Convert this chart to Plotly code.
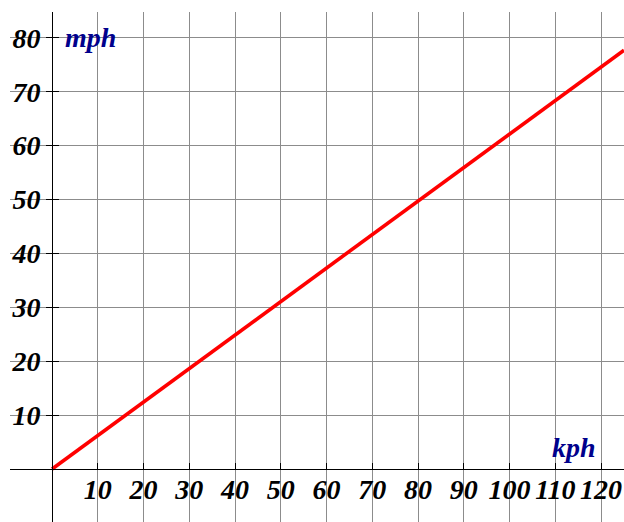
import plotly.graph_objects as go

# Data
kph = [0, 125]
mph = [0, 77.7]
x_ticks = [10, 20, 30, 40, 50, 60, 70, 80, 90, 100, 110, 120]
y_ticks = [10, 20, 30, 40, 50, 60, 70, 80]
x_range = [-9.2, 125.0]
y_range = [-9.83, 84.8]

W, H = 624, 522
ml, mr, mt, mb = 10, 0, 12, 0
font = dict(family="Liberation Serif, Times New Roman, serif", size=28, color="black",
            style="italic", weight="bold")
lab_font = dict(family="Liberation Serif, Times New Roman, serif", size=28, color="#00008c",
                style="italic", weight="bold")

x_pos = (0 - y_range[0]) / (y_range[1] - y_range[0])
y_pos = (0 - x_range[0]) / (x_range[1] - x_range[0])

fig = go.Figure()
fig.add_trace(go.Scatter(x=kph, y=mph, mode="lines",
                         line=dict(color="#ff0000", width=3.6),
                         hoverinfo="skip", showlegend=False, cliponaxis=True))
# dummy trace for second y axis (ticks crossing)
fig.add_trace(go.Scatter(x=[None], y=[None], yaxis="y2", showlegend=False))

fig.update_layout(
    width=W, height=H,
    margin=dict(l=ml, r=mr, t=mt, b=mb, autoexpand=False),
    paper_bgcolor="white", plot_bgcolor="white",
    xaxis=dict(range=x_range, tickvals=x_ticks, ticktext=[str(v) for v in x_ticks],
               showgrid=True, gridcolor="#8c8c8c", gridwidth=1, zeroline=False,
               showline=True, linecolor="black", linewidth=1.2,
               anchor="free", position=x_pos, automargin=False,
               ticks="inside", ticklen=6, tickcolor="black", tickwidth=1.2,
               ticklabelstandoff=-5,
               tickfont=font, fixedrange=True),
    yaxis=dict(range=y_range, tickvals=y_ticks, ticktext=[str(v) for v in y_ticks],
               showgrid=True, gridcolor="#8c8c8c", gridwidth=1, zeroline=False,
               showline=True, linecolor="black", linewidth=1.2,
               anchor="free", position=y_pos, automargin=False,
               ticks="outside", ticklen=6, tickcolor="black", tickwidth=1.2,
               tickfont=font, fixedrange=True),
    yaxis2=dict(range=y_range, tickvals=y_ticks, overlaying="y", matches="y",
                anchor="free", position=y_pos, showgrid=False, zeroline=False,
                ticks="inside", ticklen=6, tickcolor="black", tickwidth=1.2,
                showticklabels=False, showline=False, fixedrange=True, automargin=False),
    annotations=[
        dict(x=2.4, y=80, xref="x", yref="y", text="mph", showarrow=False,
             xanchor="left", yanchor="middle", font=lab_font),
        dict(x=119.3, y=4.0, xref="x", yref="y", text="kph", showarrow=False,
             xanchor="right", yanchor="middle", font=lab_font),
    ],
)

fig.write_html("out.html", config={"displayModeBar": False},
               post_script="document.body.style.margin='0';document.body.style.overflow='hidden';")
